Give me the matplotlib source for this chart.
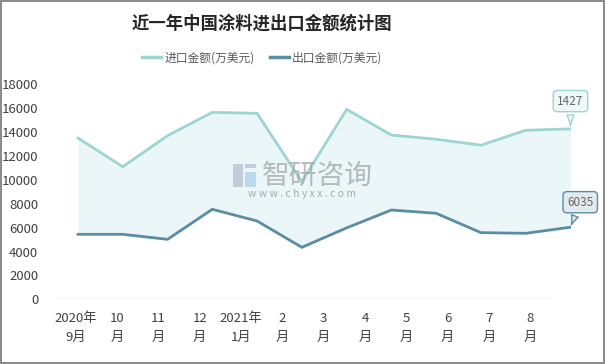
import matplotlib
matplotlib.use('Agg')
import matplotlib.pyplot as plt
from matplotlib.lines import Line2D
from matplotlib.patches import Rectangle

plt.rcParams['font.family'] = ['Noto Sans CJK SC', 'DejaVu Sans']

# ---------------- data ----------------
title = '近一年中国涂料进出口金额统计图'
months = ['2020年\n9月', '10\n月', '11\n月', '12\n月', '2021年\n1月', '2\n月',
          '3\n月', '4\n月', '5\n月', '6\n月', '7\n月', '8\n月']
series_names = ['进口金额(万美元)', '出口金额(万美元)']
imports = [13500, 11100, 13700, 15650, 15570, 9850, 15900, 13750, 13400, 12900, 14150, 14270]
exports = [5440, 5440, 5020, 7535, 6555, 4350, 5980, 7475, 7200, 5580, 5525, 6035]
import_callout = '1427'
export_callout = '6035'
yticks = [0, 2000, 4000, 6000, 8000, 10000, 12000, 14000, 16000, 18000]

# ---------------- style ----------------
C_IMP = '#9DD5D2'
C_EXP = '#5A8DA3'
C_FILL = '#EAF6F7'
TXT = '#404040'

W, H = 605, 364
fig = plt.figure(figsize=(W / 100, H / 100), dpi=100)
fig.patch.set_facecolor('white')

def fx(p):
    return p / W

def fy(p):
    return 1 - p / H

# axes spanning pixel x 55..571, y 84.3..299.3
ax = fig.add_axes([fx(55), fy(299.3), fx(571 - 55), (299.3 - 84.3) / H])
x = list(range(len(months)))
step = 44.77
ax.set_xlim(-23 / step, len(months) - 1 + 0.5 / step)
ax.set_ylim(0, 18000)
ax.fill_between(x, exports, imports, color=C_FILL, lw=0, zorder=1)
ax.plot(x, imports, color=C_IMP, lw=2.0, zorder=3, solid_joinstyle='miter')
ax.plot(x, exports, color=C_EXP, lw=2.0, zorder=3, solid_joinstyle='miter')
for s in ax.spines.values():
    s.set_visible(False)
ax.set_xticks([])
ax.set_yticks(yticks)
ax.set_yticklabels([str(v) for v in yticks])
ax.tick_params(axis='y', length=0, pad=12, labelsize=9.5, labelcolor=TXT)
ax.patch.set_alpha(0)

# category axis (its own band scale)
ax2 = ax.twiny()
band = 41.33
ax2.set_xlim(-0.5, len(months) - 0.5 + 20 / band)
ax2.xaxis.set_ticks_position('bottom')
ax2.set_xticks(x)
ax2.set_xticklabels(months, linespacing=1.55)
ax2.tick_params(axis='x', length=0, pad=9.5, labelsize=9.5, labelcolor=TXT)
for s in ax2.spines.values():
    s.set_visible(False)
ax2.axhline(0, xmin=0, xmax=496 / 516, color='#D9D9D9', lw=1, zorder=0)

# callouts on the last points
ax.annotate(import_callout, xy=(x[-1], imports[-1]), xytext=(0, 20),
            textcoords='offset points', ha='center', va='center',
            fontsize=8.5, color='#666666', annotation_clip=False, zorder=5,
            bbox=dict(boxstyle='round,pad=0.35', fc='#EEF8F8', ec=C_IMP, lw=1),
            arrowprops=dict(arrowstyle='wedge,tail_width=0.6,shrink_factor=0.4',
                            fc='#EEF8F8', ec=C_IMP, lw=1))
ax.annotate(export_callout, xy=(x[-1], exports[-1]), xytext=(7, 18),
            textcoords='offset points', ha='center', va='center',
            fontsize=8.5, color='#666666', annotation_clip=False, zorder=5,
            bbox=dict(boxstyle='round,pad=0.35', fc='#E3EAEE', ec=C_EXP, lw=1),
            arrowprops=dict(arrowstyle='wedge,tail_width=0.6,shrink_factor=0.4',
                            fc='#E3EAEE', ec=C_EXP, lw=1))

# title & legend
fig.text(fx(262), fy(24), title, ha='center', va='center', fontsize=12.5,
         fontweight='bold', color='#262626')
handles = [Line2D([], [], color=C_IMP, lw=2.5), Line2D([], [], color=C_EXP, lw=2.5)]
fig.legend(handles, series_names, loc='center', bbox_to_anchor=(fx(262), fy(58)),
           ncol=2, frameon=False, fontsize=8.5, handlelength=1.6,
           handletextpad=0.3, columnspacing=1.3, labelcolor='#595959')

# watermark
fig.text(fx(317), fy(175.5), '智研咨询', ha='center', va='center', fontsize=20,
         color='#A0A0A0', alpha=0.7, zorder=4)
fig.text(fx(302.5), fy(194), 'w w w . c h y x x . c o m', ha='center', va='center',
         fontsize=7.5, color='#8A8A8A', alpha=0.7, zorder=4)
fig.patches.append(Rectangle((fx(233), fy(187)), fx(10), (187 - 164) / H,
                             transform=fig.transFigure, fc='#B7C3D6', ec='none', alpha=0.8))
fig.patches.append(Rectangle((fx(245), fy(187)), fx(11), (187 - 172) / H,
                             transform=fig.transFigure, fc='#AFD3E8', ec='none', alpha=0.8))
fig.patches.append(Rectangle((fx(245), fy(168)), fx(11), 4 / H,
                             transform=fig.transFigure, fc='#B7C3D6', ec='none', alpha=0.8))

# border
fig.patches.append(Rectangle((0, 0), 1, 1, transform=fig.transFigure, fill=False,
                             ec='#8C8C8C', lw=2.9))

fig.savefig('out.png', dpi=100)
